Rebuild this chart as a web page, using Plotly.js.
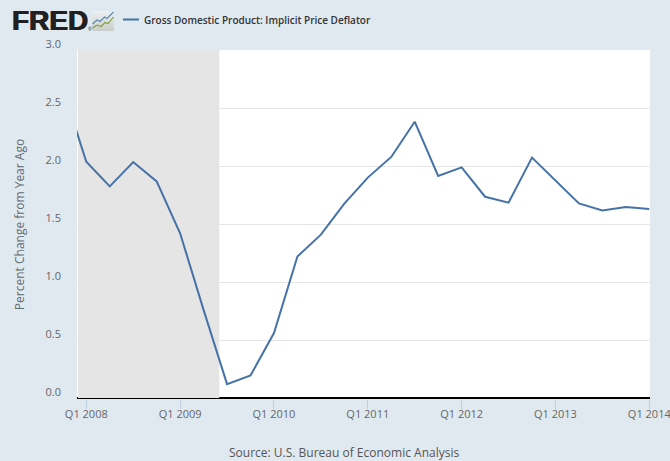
<!DOCTYPE html>
<html><head><meta charset="utf-8">
<script src="https://cdn.plot.ly/plotly-3.0.1.min.js"></script>
<style>html,body{margin:0;padding:0;background:#e1e9f0;overflow:hidden}</style>
</head><body><div id="chart" style="width:670px;height:461px"></div>
<script>
const quarters = ["Q4 2007","Q1 2008","Q2 2008","Q3 2008","Q4 2008","Q1 2009","Q2 2009","Q3 2009","Q4 2009","Q1 2010","Q2 2010","Q3 2010","Q4 2010","Q1 2011","Q2 2011","Q3 2011","Q4 2011","Q1 2012","Q2 2012","Q3 2012","Q4 2012","Q1 2013","Q2 2013","Q3 2013","Q4 2013","Q1 2014"];
const deflatorChange = [2.67,2.037,1.824,2.034,1.867,1.42,0.76,0.12,0.195,0.56,1.22,1.408,1.675,1.90,2.078,2.382,1.914,1.988,1.735,1.684,2.072,1.873,1.678,1.617,1.646,1.629];
const xTicks = ["Q1 2008","Q1 2009","Q1 2010","Q1 2011","Q1 2012","Q1 2013","Q1 2014"];
const yTicks = [0,0.5,1,1.5,2,2.5,3];
const yTickLabels = ["0.0","0.5","1.0","1.5","2.0","2.5","3.0"];
const seriesName = "Gross Domestic Product: Implicit Price Deflator";
const recession = [0.646,6.67];
const xRange = [0.604,25.03];
const yRange = [-0.0086,3];
const font = '"Open Sans", sans-serif';
const icon = 'data:image/svg+xml;utf8,' + encodeURIComponent(
 '<svg xmlns="http://www.w3.org/2000/svg" width="22" height="20" viewBox="0 0 22 20">'+
 '<defs><linearGradient id="g" x1="0" y1="0" x2="0" y2="1"><stop offset="0" stop-color="#eef0f1"/><stop offset="1" stop-color="#c9cdca"/></linearGradient></defs>'+
 '<rect width="22" height="20" rx="1.5" fill="url(#g)"/>'+
 '<path d="M0.5 13 L5 9 L8 10.5 L12.5 6 L15 7.5 L21.5 1" fill="none" stroke="#5b87ad" stroke-width="1.1"/>'+
 '<path d="M0.5 17 L5 14 L9 15.5 L13 11.5 L16 12.5 L21.5 6" fill="none" stroke="#7c9c3c" stroke-width="1.1"/></svg>');
const px = v => (v-77)/573;
const py = v => (399-v)/349;
Plotly.newPlot('chart',[{
  type:'scatter',mode:'lines',x:quarters,y:deflatorChange,name:seriesName,
  line:{color:'#4572a7',width:2,shape:'linear'},hoverinfo:'x+y',cliponaxis:true
}],{
  width:670,height:461,showlegend:false,
  margin:{l:77,r:20,t:50,b:62,pad:0},
  paper_bgcolor:'#e1e9f0',plot_bgcolor:'#ffffff',
  font:{family:font,color:'#666666',size:11},
  xaxis:{type:'category',categoryorder:'array',categoryarray:quarters,range:xRange,
    tickmode:'array',tickvals:xTicks,ticktext:xTicks,ticks:'outside',ticklen:9,tickwidth:1,tickcolor:'#c0d0e0',
    showgrid:false,zeroline:false,showline:false,
    tickfont:{family:font,size:11,color:'#666666'},ticklabelstandoff:-4,automargin:false},
  yaxis:{range:yRange,tickmode:'array',tickvals:yTicks,ticktext:yTickLabels,
    showgrid:true,gridcolor:'#e6e6e6',gridwidth:1,zeroline:true,zerolinecolor:'#000000',zerolinewidth:2,showline:false,ticks:'',
    tickfont:{family:font,size:11,color:'#666666'},ticklabelshift:-6,ticklabelstandoff:15,automargin:true,
    title:{text:'Percent Change from Year Ago',font:{family:font,size:12,color:'#5f6a72'},standoff:18}},
  shapes:[
    {type:'rect',xref:'x',yref:'y',x0:recession[0],x1:recession[1],y0:0,y1:3,fillcolor:'#e5e5e5',line:{width:0},layer:'between'},
    {type:'line',xref:'paper',yref:'paper',x0:px(123),x1:px(139),y0:py(19.5),y1:py(19.5),line:{color:'#4572a7',width:2}}
  ],
  images:[{source:icon,xref:'paper',yref:'paper',x:px(92),y:py(11),sizex:22/573,sizey:20/349,xanchor:'left',yanchor:'top',sizing:'stretch',layer:'above'}],
  annotations:[
    {text:'<b>FRED</b>',xref:'paper',yref:'paper',x:px(10),y:py(21),xanchor:'left',yanchor:'middle',showarrow:false,font:{family:'"Liberation Sans", Arial, sans-serif',size:28,color:'#231f20',shadow:'0.6px 0 0 #231f20, -0.6px 0 0 #231f20'}},
    {text:'®',xref:'paper',yref:'paper',x:px(86),y:py(29),xanchor:'left',yanchor:'middle',showarrow:false,font:{family:'"Liberation Sans", Arial, sans-serif',size:5,color:'#231f20'}},
    {text:seriesName,xref:'paper',yref:'paper',x:px(142),y:py(19.5),xanchor:'left',yanchor:'middle',showarrow:false,font:{family:font,size:10,weight:600,color:'#333333'}},
    {text:'Source: U.S. Bureau of Economic Analysis',xref:'paper',yref:'paper',x:px(343.5),y:py(453),xanchor:'center',yanchor:'middle',showarrow:false,font:{family:font,size:12,color:'#555555'}}
  ]
},{staticPlot:true,displayModeBar:false});
</script></body></html>
